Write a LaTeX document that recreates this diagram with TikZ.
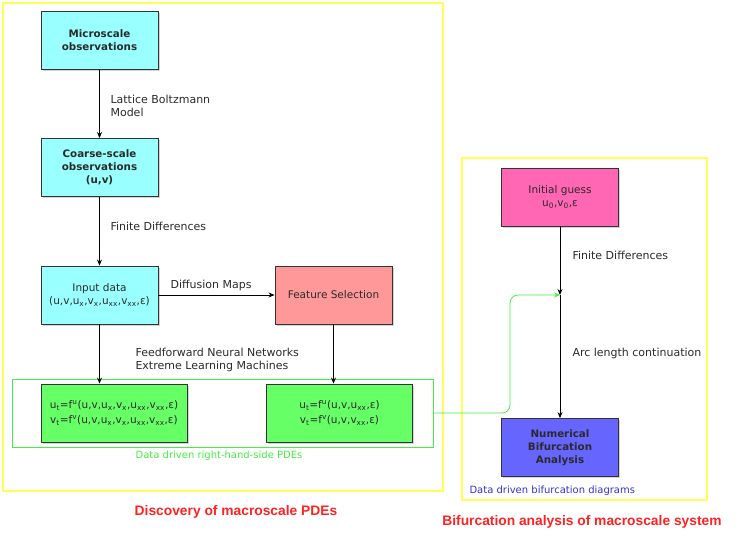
\documentclass[tikz,border=0pt]{standalone}
\usepackage{fontspec}
\setmainfont{DejaVu Sans}
\newfontfamily\titlefont{Liberation Sans}
\usetikzlibrary{arrows.meta,shadows,positioning}
\definecolor{ybord}{HTML}{FFFF55}
\definecolor{cyanbox}{HTML}{99FFFF}
\definecolor{salmon}{HTML}{FF9999}
\definecolor{greenbox}{HTML}{66FF66}
\definecolor{pinkbox}{HTML}{FF66B3}
\definecolor{bluebox}{HTML}{6666FF}
\definecolor{txt}{HTML}{2A2A2A}
\definecolor{lgreen}{HTML}{44EE44}
\definecolor{redtitle}{HTML}{FF2222}
\definecolor{bluetxt}{HTML}{3333CC}
\tikzset{
  box/.style={draw=black!80, line width=0.9pt, minimum width=117pt, minimum height=58pt,
    align=center, font=\fontsize{10.5}{13}\selectfont, text=txt, inner sep=1pt,
    drop shadow={shadow xshift=1.5pt, shadow yshift=-1.5pt, opacity=0.35}},
  bbox/.style={box, font=\fontsize{10.3}{13}\selectfont\bfseries},
  wbox/.style={box, minimum width=146pt},
  frame/.style={draw=ybord, line width=2.2pt},
  lab/.style={anchor=west, align=left, font=\fontsize{11}{13.5}\selectfont, text=txt},
  arr/.style={-{Stealth[length=6pt,width=5pt]}, line width=0.8pt, black},
  garr/.style={-{Stealth[length=6pt,width=5pt]}, line width=0.8pt, lgreen, rounded corners=8pt},
  rtitle/.style={font=\titlefont\fontsize{13.8}{16}\selectfont\bfseries, text=redtitle},
}
\newcommand{\sbs}[1]{\textsubscript{#1}}
\newcommand{\sps}[1]{\textsuperscript{#1}}
\begin{document}
\begin{tikzpicture}[x=1pt,y=-1pt]
\useasboundingbox (0,0) rectangle (747,542);
% frames
\draw[frame] (3,3) rectangle (443,491);
\draw[frame] (462,158) rectangle (707,500);
% green outline
\node[draw=lgreen, line width=0.9pt, minimum width=421pt, minimum height=68pt, inner sep=0pt] (grect) at (222.5,413) {};
% left nodes
\node[bbox, fill=cyanbox] (micro) at (99.5,40.5) {Microscale\\observations};
\node[bbox, fill=cyanbox] (coarse) at (99.5,167.5) {Coarse-scale\\observations\\(u,v)};
\node[box, fill=cyanbox] (input) at (99.5,295) {Input data\\(u,v,u\sbs{x},v\sbs{x},u\sbs{xx},v\sbs{xx},ε)};
\node[box, fill=salmon] (feat) at (333.5,295) {Feature Selection};
\node[wbox, fill=greenbox] (pde1) at (114,413) {u\sbs{t}=f\sps{u}(u,v,u\sbs{x},v\sbs{x},u\sbs{xx},v\sbs{xx},ε)\\[2pt]v\sbs{t}=f\sps{v}(u,v,u\sbs{x},v\sbs{x},u\sbs{xx},v\sbs{xx},ε)};
\node[wbox, fill=greenbox] (pde2) at (339.5,413) {u\sbs{t}=f\sps{u}(u,v,u\sbs{xx},ε)\\[2pt]v\sbs{t}=f\sps{v}(u,v,v\sbs{xx},ε)};
% right nodes
\node[box, fill=pinkbox] (init) at (560,197) {Initial guess\\u\sbs{0},v\sbs{0},ε};
\node[bbox, fill=bluebox] (numb) at (560,447.5) {Numerical\\Bifurcation\\Analysis};
\coordinate (mid) at (560,295);
% arrows
\draw[arr] (micro) -- (coarse);
\draw[arr] (coarse) -- (input);
\draw[arr] (input) -- (feat);
\draw[arr] (input.south) -- (input.south |- pde1.north);
\draw[arr] (feat.south) -- (feat.south |- pde2.north);
\draw[arr] (init) -- (mid);
\draw[arr] (mid) -- (numb);
\draw[garr] (grect.east) -- (510,413) -- (510,295) -- (mid);
% labels
\node[lab] (l1) at (107,106) {Lattice Boltzmann\\Model};
\node[lab] (l2) at (107,226) {Finite Differences};
\node[lab] (l3) at (167,285) {Diffusion Maps};
\node[lab] (l4) at (132,360) {Feedforward Neural Networks\\Extreme Learning Machines};
\node[lab] (l5) at (569,255) {Finite Differences};
\node[lab] (l6) at (569,353) {Arc length continuation};
\node[font=\fontsize{10}{12}\selectfont, text=lgreen] (t1) at (219,456) {Data driven right-hand-side PDEs};
\node[anchor=west, font=\fontsize{10}{12}\selectfont, text=bluetxt] (t2) at (466,491) {Data driven bifurcation diagrams};
\node[rtitle] (t3) at (236,512) {Discovery of macroscale PDEs};
\node[rtitle] (t4) at (582,522) {Bifurcation analysis of macroscale system};
\end{tikzpicture}
\end{document}
